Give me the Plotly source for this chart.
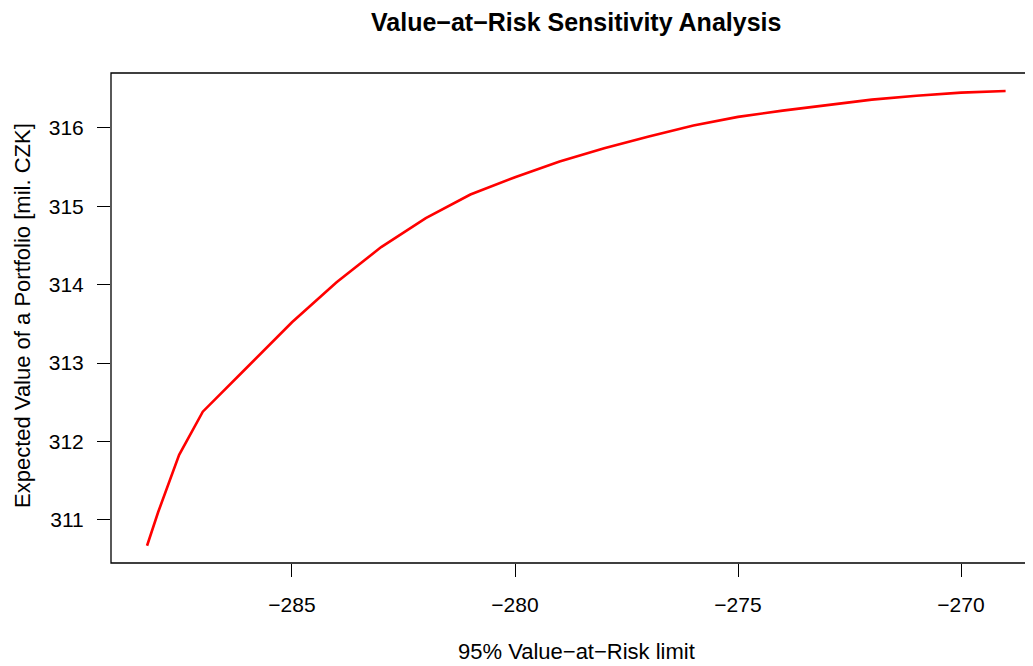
import plotly.graph_objects as go

var_limit = [-288.25, -288.0, -287.53, -287.0, -286.0, -285.0, -284.0, -283.0, -282.0, -281.0,
             -280.0, -279.0, -278.0, -277.0, -276.0, -275.0, -274.0, -273.0, -272.0, -271.0,
             -270.0, -269.0]
exp_value = [310.67, 311.10, 311.83, 312.38, 312.95, 313.52, 314.03, 314.48, 314.85, 315.15,
             315.37, 315.57, 315.74, 315.89, 316.03, 316.14, 316.22, 316.29, 316.36, 316.41,
             316.45, 316.47]
x_ticks = [-285, -280, -275, -270]
y_ticks = [311, 312, 313, 314, 315, 316]

# page has an 8px body margin: figure coords = page coords - 8
OFF = 8
W, H = 1033 - OFF, 666 - OFF
L, R, T = 111 - OFF, 0, 73 - OFF
B = H - (563 - OFF)
PW, PH = W - L - R, H - T - B

fig = go.Figure()
fig.add_trace(go.Scatter(x=var_limit, y=exp_value, mode="lines",
                         line=dict(color="#ff0000", width=2.6), showlegend=False))

font = dict(family="Liberation Sans, Arial, sans-serif", color="black")
fig.update_layout(
    width=W, height=H,
    margin=dict(l=L, r=R, t=T, b=B),
    paper_bgcolor="white", plot_bgcolor="white",
    font=dict(**font, size=21),
    xaxis=dict(range=[-289.058, -268.386], tickvals=x_ticks, ticks="outside", ticklen=13,
               tickwidth=1, tickcolor="black", showgrid=False, zeroline=False,
               showline=False, ticklabelstandoff=10, tickfont=dict(size=21)),
    yaxis=dict(range=[310.45, 316.70], tickvals=y_ticks, ticks="outside", ticklen=13,
               tickwidth=1, tickcolor="black", showgrid=False, zeroline=False,
               showline=False, ticklabelstandoff=9, tickfont=dict(size=21)),
    shapes=[dict(type="rect", xref="paper", yref="paper", x0=0, x1=1.02, y0=0, y1=1,
                 line=dict(color="black", width=1.3), fillcolor="rgba(0,0,0,0)", layer="above")],
    annotations=[
        dict(text="<b>Value−at−Risk Sensitivity Analysis</b>", xref="paper", yref="paper",
             x=(576 - OFF - L) / PW, y=1 + (T - (22 - OFF)) / PH, xanchor="center",
             yanchor="middle", showarrow=False, font=dict(size=25)),
        dict(text="95% Value−at−Risk limit", xref="paper", yref="paper",
             x=(576 - OFF - L) / PW, y=-((651 - OFF) - (T + PH)) / PH, xanchor="center",
             yanchor="middle", showarrow=False, font=dict(size=22)),
        dict(text="Expected Value of a Portfolio [mil. CZK]", xref="paper", yref="paper",
             x=-(L - (22 - OFF)) / PW, y=0.5 + 2 / PH, xanchor="center", yanchor="middle",
             textangle=-90, showarrow=False, font=dict(size=22)),
    ],
)

fig.write_html("out.html")
